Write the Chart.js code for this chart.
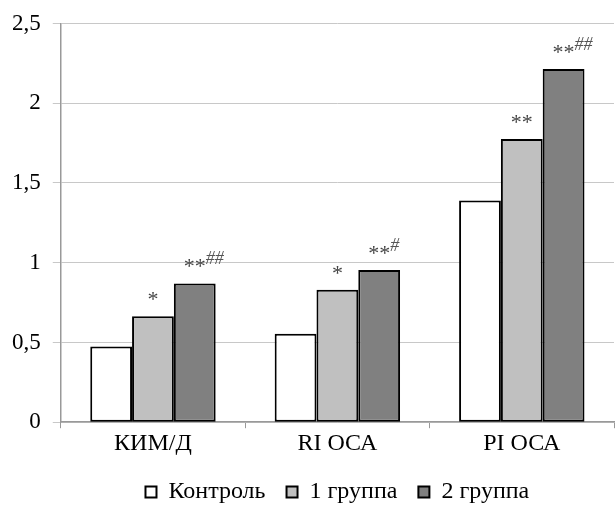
<!DOCTYPE html>
<html>
<head>
<meta charset="utf-8">
<script src="https://cdn.jsdelivr.net/npm/chart.js@4"></script>
<style>
  html, body { margin:0; padding:0; background:#fff; }
  #wrap { width:615px; height:506px; }
</style>
</head>
<body>
<div id="wrap"><canvas id="chart"></canvas></div>
<script>
const categories = ['КИМ/Д', 'RI ОСА', 'PI ОСА'];
const seriesNames = ['Контроль', '1 группа', '2 группа'];
const control = [0.475, 0.555, 1.39];
const group1 = [0.665, 0.83, 1.775];
const group2 = [0.87, 0.955, 2.215];
// значимость: звёздочки и решётки над столбцами (по сериям)
const stars = [['', '', ''], ['*', '*', '**'], ['**', '**', '**']];
const hashes = [['', '', ''], ['', '', ''], ['##', '#', '##']];

const fills = ['#ffffff', '#c0c0c0', '#808080'];
const serif = 'Liberation Serif';
Chart.defaults.font.family = serif;

const marksPlugin = {
  id: 'marks',
  afterDatasetsDraw(chart){
    const ctx = chart.ctx;
    ctx.save();
    chart.data.datasets.forEach((ds, di) => {
      const meta = chart.getDatasetMeta(di);
      meta.data.forEach((bar, i) => {
        const s = stars[di][i], h = hashes[di][i];
        if (!s && !h) return;
        ctx.font = '22px ' + serif;
        const sw = ctx.measureText(s).width;
        const x0 = bar.x - sw / 2;
        ctx.textBaseline = 'alphabetic';
        ctx.textAlign = 'left';
        ctx.fillStyle = '#444';
        ctx.fillText(s, x0, bar.y - 10);
        if (h) {
          ctx.font = 'italic 18px ' + serif;
          ctx.fillStyle = '#555';
          ctx.fillText(h, x0 + sw, bar.y - 19);
        }
      });
    });
    ctx.restore();
  }
};

new Chart(document.getElementById('chart'), {
  type: 'bar',
  data: {
    labels: categories,
    datasets: [control, group1, group2].map((d, i) => ({
      label: seriesNames[i],
      data: d,
      backgroundColor: fills[i],
      borderColor: '#000',
      borderWidth: 2,
      borderSkipped: false,
      categoryPercentage: 0.68,
      barPercentage: 1
    }))
  },
  options: {
    responsive: true,
    maintainAspectRatio: false,
    animation: false,
    layout: { padding: { top: 0, right: 1, left: 0, bottom: -8 } },
    plugins: {
      legend: {
        position: 'bottom',
        fullSize: false,
        labels: {
          boxWidth: 11, boxHeight: 11,
          color: '#000',
          padding: 21,
          font: { family: serif, size: 24 }
        }
      },
      tooltip: { enabled: false }
    },
    scales: {
      x: {
        grid: { drawOnChartArea: false, drawTicks: true, tickLength: 6, color: '#999' },
        border: { color: '#999', width: 1.5 },
        ticks: { color: '#000', padding: 1, font: { family: serif, size: 24 } }
      },
      y: {
        min: 0, max: 2.5,
        grid: { color: '#c8c8c8', tickLength: 8, lineWidth: 1 },
        border: { color: '#999', width: 1.5 },
        ticks: {
          stepSize: 0.5, color: '#000', padding: 12,
          font: { family: serif, size: 23, lineHeight: 1 },
          callback: v => String(v).replace('.', ',')
        }
      }
    }
  },
  plugins: [marksPlugin]
});
</script>
</body>
</html>
